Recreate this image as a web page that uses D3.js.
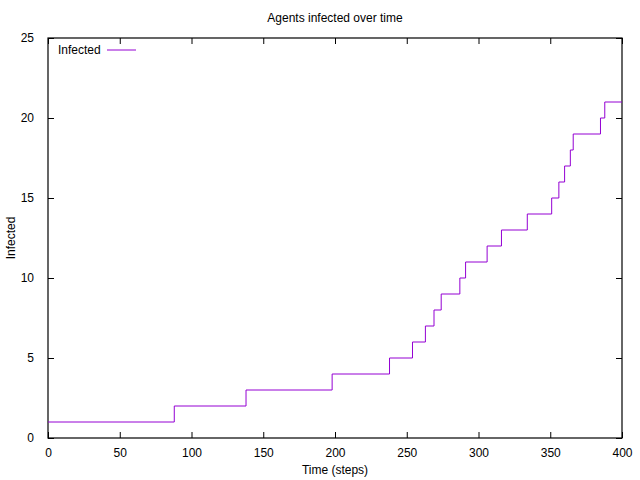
<!DOCTYPE html>
<html><head><meta charset="utf-8">
<script src="https://cdn.jsdelivr.net/npm/d3@7"></script>
<style>
body{margin:0;background:#fff;}
text{font-family:"Liberation Sans",Arial,sans-serif;font-size:12px;fill:#000;}
</style></head>
<body>
<script>
const title = "Agents infected over time";
const xLabel = "Time (steps)";
const yLabel = "Infected";
const seriesName = "Infected";
const steps =    [0, 88, 138, 198, 238, 254, 263, 269, 274, 287, 291, 306, 316, 334, 351, 356, 360, 364, 366, 385, 388, 400];
const infected = [1,  2,   3,   4,   5,   6,   7,   8,   9,  10,  11,  12,  13,  14,  15,  16,  17,  18,  19,  20,  21,  21];
const xTicks = [0, 50, 100, 150, 200, 250, 300, 350, 400];
const yTicks = [0, 5, 10, 15, 20, 25];
const lineColor = "#9400d3";

const W = 640, H = 480;
const m = {left: 48, right: 18, top: 38, bottom: 42};
const svg = d3.select("body").append("svg").attr("width", W).attr("height", H);

const x = d3.scaleLinear().domain([0, 400]).range([m.left, W - m.right]);
const y = d3.scaleLinear().domain([0, 25]).range([H - m.bottom, m.top]);
const tl = 6;

const g = svg.append("g");
// ticks (inward, mirrored)
g.append("g").attr("transform", `translate(0,${y(0)})`)
  .call(d3.axisBottom(x).tickValues(xTicks).tickSizeInner(-tl).tickSizeOuter(0).tickPadding(10))
  .call(a => a.select(".domain").remove());
g.append("g").attr("transform", `translate(0,${y(25)})`)
  .call(d3.axisTop(x).tickValues(xTicks).tickSizeInner(-tl).tickSizeOuter(0).tickFormat(""))
  .call(a => a.select(".domain").remove());
g.append("g").attr("transform", `translate(${x(0)},0)`)
  .call(d3.axisLeft(y).tickValues(yTicks).tickSizeInner(-tl).tickSizeOuter(0).tickPadding(14))
  .call(a => a.select(".domain").remove());
g.append("g").attr("transform", `translate(${x(400)},0)`)
  .call(d3.axisRight(y).tickValues(yTicks).tickSizeInner(-tl).tickSizeOuter(0).tickFormat(""))
  .call(a => a.select(".domain").remove());
g.selectAll(".tick line").attr("stroke", "#000").attr("stroke-width", 1);
g.selectAll(".tick text").style("font-family", '"Liberation Sans",Arial,sans-serif').style("font-size", "12px").attr("fill", "#000");

// frame
svg.append("rect").attr("x", x(0)).attr("y", y(25))
  .attr("width", x(400) - x(0)).attr("height", y(0) - y(25))
  .attr("fill", "none").attr("stroke", "#000").attr("stroke-width", 1.2);

// data line
const pts = steps.map((s, i) => [s, infected[i]]);
svg.append("path").datum(pts)
  .attr("d", d3.line().x(d => x(d[0])).y(d => y(d[1])).curve(d3.curveStepAfter))
  .attr("fill", "none").attr("stroke", lineColor).attr("stroke-width", 1);

// legend
svg.append("text").attr("x", 58).attr("y", 54).text(seriesName);
svg.append("line").attr("x1", 107).attr("x2", 136).attr("y1", 50).attr("y2", 50)
  .attr("stroke", lineColor).attr("stroke-width", 1);

// titles
svg.append("text").attr("x", 335).attr("y", 22).attr("text-anchor", "middle").text(title);
svg.append("text").attr("x", 335).attr("y", 474).attr("text-anchor", "middle").text(xLabel);
svg.append("text").attr("transform", `translate(15,${(y(0)+y(25))/2}) rotate(-90)`)
  .attr("text-anchor", "middle").text(yLabel);
</script>
</body></html>
